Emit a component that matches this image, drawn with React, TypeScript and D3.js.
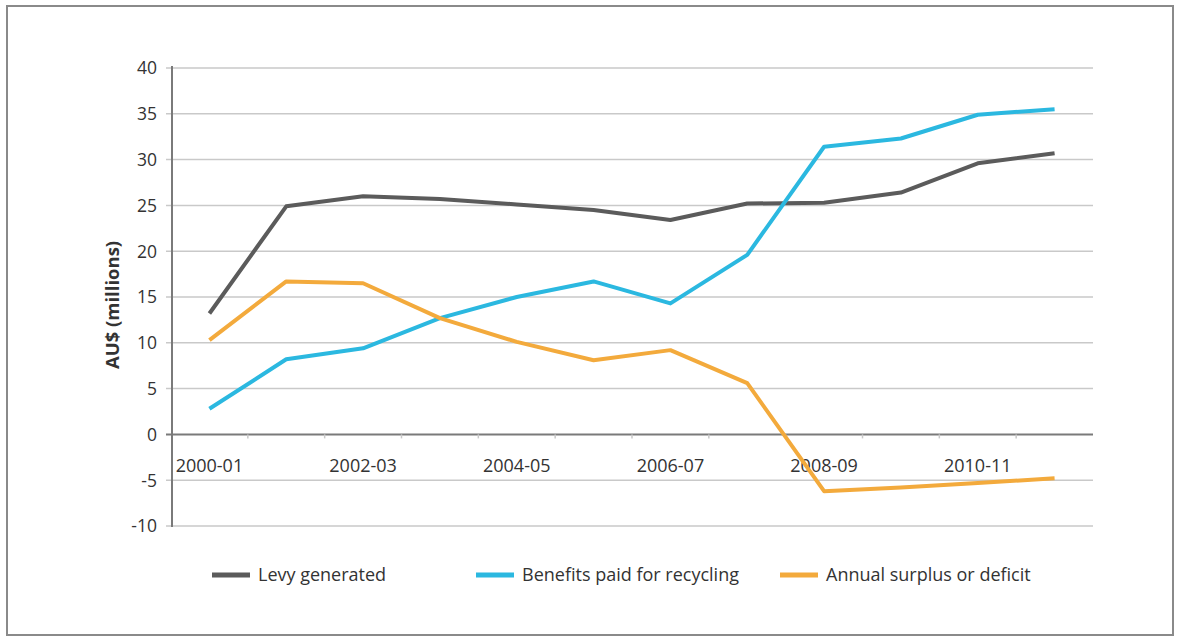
import React from "react";
import * as d3 from "d3";

const categories = [
  "2000-01", "2001-02", "2002-03", "2003-04", "2004-05", "2005-06",
  "2006-07", "2007-08", "2008-09", "2009-10", "2010-11", "2011-12",
];
const levy = [13.2, 24.9, 26.0, 25.7, 25.1, 24.5, 23.4, 25.2, 25.3, 26.4, 29.6, 30.7];
const benefits = [2.8, 8.2, 9.4, 12.7, 15.0, 16.7, 14.3, 19.6, 31.4, 32.3, 34.9, 35.5];
const surplus = [10.3, 16.7, 16.5, 12.7, 10.1, 8.1, 9.2, 5.6, -6.2, -5.8, -5.3, -4.8];
const yTicks = [-10, -5, 0, 5, 10, 15, 20, 25, 30, 35, 40];
const xLabels = ["2000-01", "2002-03", "2004-05", "2006-07", "2008-09", "2010-11"];
const seriesNames = ["Levy generated", "Benefits paid for recycling", "Annual surplus or deficit"];
const seriesColors = ["#5b5b5b", "#2bb8e0", "#f3aa3c"];

const W = 1178;
const H = 636;
const left = 171;
const right = 1093;
const top = 68;
const bottom = 526;
const font = "'Open Sans', 'Noto Sans', sans-serif";

export default function App() {
  const x = d3.scaleBand<string>().domain(categories).range([left, right]);
  const y = d3.scaleLinear().domain([-10, 40]).range([bottom, top]);
  const cx = (c: string) => (x(c) as number) + x.bandwidth() / 2;
  const series = [levy, benefits, surplus];
  const line = d3
    .line<number>()
    .x((_, i) => cx(categories[i]))
    .y((d) => y(d));

  const legendX = [212, 476, 780];
  const legendY = 575;

  return (
    <div style={{ position: "fixed", left: 0, top: 0 }}>
      <svg width={W} height={H} style={{ display: "block", background: "#fff" }}>
        <rect x={7} y={6} width={1166} height={629} fill="#fff" stroke="#8a8a8a" strokeWidth={2} />
        {yTicks.map((t) => (
          <g key={t}>
            {t !== 0 && (
              <line x1={166} x2={right} y1={y(t)} y2={y(t)} stroke="#c9c9c9" strokeWidth={1.5} />
            )}
            <text
              x={157}
              y={y(t)}
              dy="0.36em"
              textAnchor="end"
              fontFamily={font}
              fontSize={17.5}
              fill="#333"
            >
              {t}
            </text>
          </g>
        ))}
        <line x1={166} x2={right} y1={y(0)} y2={y(0)} stroke="#7a7a7a" strokeWidth={2} />
        {categories.slice(1).map((c) => (
          <line
            key={c}
            x1={x(c) as number}
            x2={x(c) as number}
            y1={y(0)}
            y2={y(0) + 4}
            stroke="#c9c9c9"
            strokeWidth={1.5}
          />
        ))}
        <line x1={left + 1} x2={left + 1} y1={top - 2} y2={bottom + 1} stroke="#7a7a7a" strokeWidth={2} />
        {xLabels.map((c) => (
          <text
            key={c}
            x={cx(c)}
            y={472}
            textAnchor="middle"
            fontFamily={font}
            fontSize={18}
            fill="#333"
          >
            {c}
          </text>
        ))}
        <text
          transform={`translate(119,305) rotate(-90)`}
          textAnchor="middle"
          fontFamily={font}
          fontSize={18.5}
          fontWeight="bold"
          fill="#333"
        >
          AU$ (millions)
        </text>
        {series.map((s, i) => (
          <path
            key={i}
            d={line(s) as string}
            fill="none"
            stroke={seriesColors[i]}
            strokeWidth={4}
            strokeLinejoin="round"
          />
        ))}
        {seriesNames.map((n, i) => (
          <g key={n}>
            <line
              x1={legendX[i]}
              x2={legendX[i] + 38}
              y1={legendY}
              y2={legendY}
              stroke={seriesColors[i]}
              strokeWidth={5}
            />
            <text
              x={legendX[i] + 46}
              y={legendY}
              dy="0.36em"
              fontFamily={font}
              fontSize={18}
              fill="#333"
            >
              {n}
            </text>
          </g>
        ))}
      </svg>
    </div>
  );
}
